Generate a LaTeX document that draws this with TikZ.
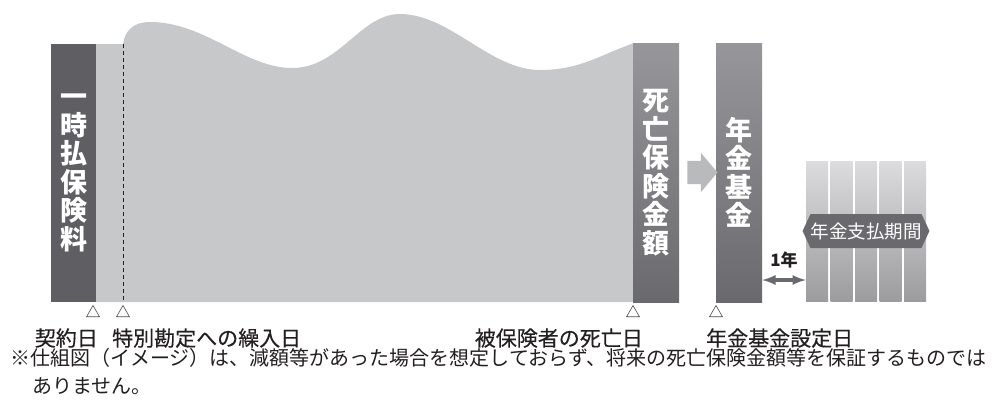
\documentclass[tikz,border=0pt]{standalone}
\usepackage{fontspec}
\setmainfont{Noto Sans CJK JP}
\newfontfamily\datefont[FakeBold=0.35]{Noto Sans CJK JP}
\usepackage{tikz}
\usetikzlibrary{arrows}
\usetikzlibrary{shapes.geometric,shapes.symbols,shapes.arrows,positioning,calc}

\definecolor{premiumgray}{HTML}{5F5F63}
\definecolor{valuegray}{HTML}{C7C8CA}
\definecolor{bartop}{HTML}{96969B}
\definecolor{barbottom}{HTML}{6A6A6E}
\definecolor{coltop}{HTML}{DCDCDE}
\definecolor{colbottom}{HTML}{9C9C9F}
\definecolor{arrowgray}{HTML}{B9BABC}
\definecolor{inkgray}{HTML}{6A6A6E}
\definecolor{textblack}{HTML}{231F20}

\tikzset{
  tatebar/.style={minimum width=46, minimum height=259, inner sep=0, text=white,
    align=center, font=\fontsize{27}{28.5}\selectfont\bfseries},
  fundbar/.style={tatebar, top color=bartop, bottom color=barbottom},
  paycol/.style={minimum width=22, minimum height=140, inner sep=0,
    top color=coltop, bottom color=colbottom},
  datemark/.style={regular polygon, regular polygon sides=3, draw=textblack!80,
    line width=0.6pt, minimum size=15, inner sep=0},
  datelabel/.style={text=textblack, font=\datefont\fontsize{21}{24}\selectfont, inner sep=0},
}

\begin{document}
\begin{tikzpicture}[x=1pt, y=-1pt, >=latex]
\useasboundingbox (0,0) rectangle (993,405);

% policy value
\fill[valuegray] (96,302) -- (96,44) -- (123,44)
  .. controls (125,30) and (134,22) .. (150,22)
  .. controls (205,22) and (245,68) .. (292,68)
  .. controls (340,68) and (360,14) .. (400,14)
  .. controls (450,14) and (490,70) .. (540,70)
  .. controls (580,70) and (600,55) .. (634,43) -- (634,302) -- cycle;
\coordinate (transtop) at (123,44);
\coordinate (transbottom) at (123,302);
\draw[textblack, line width=0.8pt, dash pattern=on 4pt off 3pt] (transtop) -- (transbottom);

% bars
\node[tatebar, fill=premiumgray, minimum width=45, minimum height=258] (premium) at (73.5,173)
  {一\\時\\払\\保\\険\\料};
\node[fundbar] (death) at (656,172.5) {死\\亡\\保\\険\\金\\額};
\node[fundbar] (fund) at (739,172.5) {年\\金\\基\\金};

\node[single arrow, fill=arrowgray, minimum height=30, inner xsep=0, inner ysep=11.5,
  single arrow head extend=8, single arrow tip angle=100] (shift)
  at ($(death.east)!0.5!(fund.west)$) {};

% payment period
\foreach \i in {0,...,4}
  \node[paycol] (col\i) at (817+24.5*\i,231) {};
\node[signal, signal to=west and east, signal pointer angle=130, fill=inkgray,
  text=white, minimum width=118, minimum height=34, inner sep=0,
  font=\fontsize{18.5}{20}\selectfont] (period) at (col2) {年金支払期間};

\coordinate (gapy) at (0,280);
\draw[<->, inkgray, line width=3.5pt] (fund.east |- gapy) -- (col0.west |- gapy);
\node[font=\fontsize{17}{20}\selectfont\bfseries, text=textblack] (oneyear) at (784,260) {1年};

% dates
\node[datemark] (m1) at (93,313) {};
\node[datemark] (m2) at (123,313) {};
\node[datemark] (m3) at (633,313) {};
\node[datemark] (m4) at (716,313) {};

\node[datelabel, anchor=base east] (contract) at (98,346) {契約日};
\node[datelabel, anchor=base west] (transfer) at (112,346) {特別勘定への繰入日};
\node[datelabel, anchor=base east] (deathday) at (643,346) {被保険者の死亡日};
\node[datelabel, anchor=base west] (fundday) at (706,346) {年金基金設定日};

% note
\node[anchor=base west, text=textblack, align=left, inner sep=0,
  font=\fontsize{20}{28}\selectfont] (note) at (10,393)
  {※仕組図（イメージ）は、減額等があった場合を想定しておらず、将来の死亡保険金額等を保証するものでは\\
   \hspace{22pt}ありません。};
\end{tikzpicture}
\end{document}
